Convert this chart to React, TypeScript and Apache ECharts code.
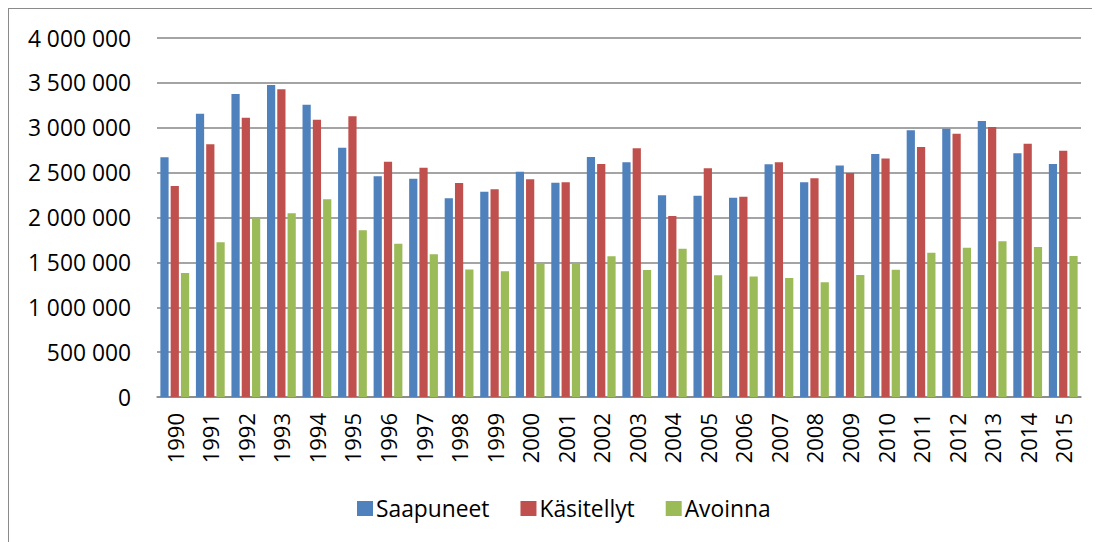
import React, { useEffect, useRef } from "react";
import * as echarts from "echarts";

const years = ["1990","1991","1992","1993","1994","1995","1996","1997","1998","1999","2000","2001","2002","2003","2004","2005","2006","2007","2008","2009","2010","2011","2012","2013","2014","2015"];
const saapuneet = [2670000,3157000,3376000,3476000,3257000,2778000,2459000,2433000,2214000,2288000,2511000,2388000,2674000,2615000,2247000,2243000,2221000,2592000,2392000,2578000,2708000,2971000,2990000,3075000,2715000,2596000];
const kasitellyt = [2351000,2815000,3112000,3428000,3090000,3127000,2622000,2555000,2384000,2314000,2425000,2392000,2596000,2771000,2017000,2548000,2232000,2615000,2436000,2496000,2656000,2786000,2934000,3008000,2823000,2745000];
const avoinna = [1382000,1723000,1991000,2046000,2202000,1857000,1708000,1590000,1422000,1400000,1486000,1486000,1567000,1415000,1653000,1356000,1344000,1326000,1278000,1359000,1419000,1608000,1664000,1734000,1671000,1571000];
const seriesNames = ["Saapuneet", "Käsitellyt", "Avoinna"];
const colors = ["#4F81BD", "#C0504D", "#9BBB59"];

const FONT = "'Open Sans', sans-serif";

function fmt(v: number): string {
  return String(v).replace(/\B(?=(\d{3})+(?!\d))/g, " ");
}

export default function App() {
  const ref = useRef<HTMLDivElement>(null);
  useEffect(() => {
    if (!ref.current) return;
    const chart = echarts.init(ref.current, undefined, { renderer: "svg" });
    const data = [saapuneet, kasitellyt, avoinna];
    chart.setOption({
      animation: false,
      textStyle: { fontFamily: FONT },
      grid: { left: 148, right: 19, top: 29, bottom: 145, containLabel: false },
      legend: {
        left: 343,
        top: 483,
        itemWidth: 16,
        itemHeight: 15,
        itemGap: 31,
        icon: "rect",
        textStyle: { fontSize: 22.8, color: "#000", fontFamily: FONT, padding: [0, 0, 0, -2] },
        data: seriesNames,
      },
      xAxis: {
        type: "category",
        data: years,
        axisLine: { show: true, lineStyle: { color: "#868686", width: 1.5 } },
        axisTick: { show: false },
        axisLabel: { rotate: 90, fontSize: 22, color: "#000", margin: 16, fontFamily: FONT, interval: 0 },
      },
      yAxis: {
        type: "value",
        min: 0,
        max: 4000000,
        interval: 500000,
        axisLine: { show: false },
        axisTick: { show: false },
        splitLine: { lineStyle: { color: "#868686", width: 1.5 } },
        axisLabel: { fontSize: 22.8, color: "#000", margin: 26, fontFamily: FONT, formatter: (v: number) => fmt(v) },
      },
      series: seriesNames.map((n, i) => ({
        name: n,
        type: "bar",
        data: data[i],
        barGap: "25%",
        barCategoryGap: "19%",
        itemStyle: { color: colors[i] },
      })),
    });
    return () => chart.dispose();
  }, []);
  return (
    <div style={{ borderLeft: "1px solid #8a8a8a", borderTop: "1px solid #8a8a8a", width: 1091, height: 533 }}>
      <div ref={ref} style={{ width: 1091, height: 533 }} />
    </div>
  );
}
